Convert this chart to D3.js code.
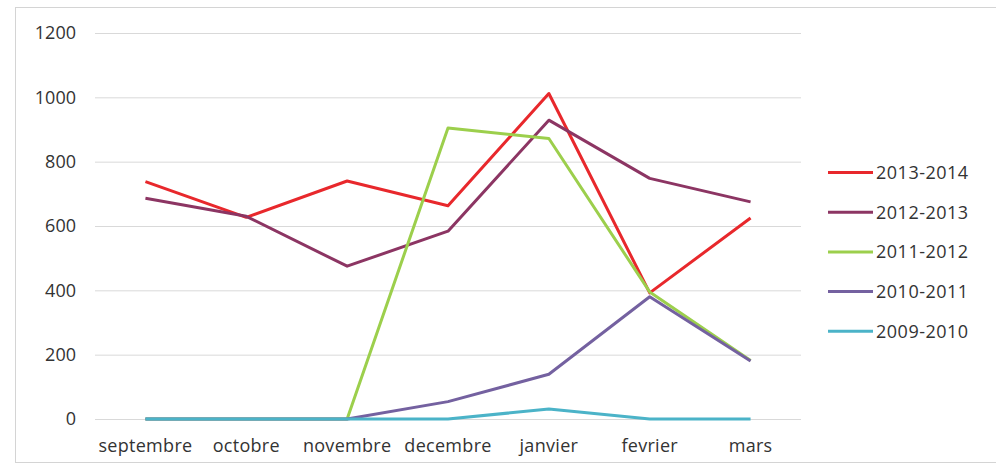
<!DOCTYPE html>
<html><head><meta charset="utf-8">
<script src="https://cdn.jsdelivr.net/npm/d3@7"></script>
<style>body{margin:0;background:#fff}svg{display:block}text{font-family:"Open Sans",sans-serif;fill:#333}</style>
</head><body><svg id="c" width="996" height="470"></svg>
<script>
const categories = ["septembre","octobre","novembre","decembre","janvier","fevrier","mars"];
const seriesNames = ["2013-2014","2012-2013","2011-2012","2010-2011","2009-2010"];
const seriesColors = ["#e8282c","#8c3563","#9ccf4c","#7461a0","#4bb3c8"];
const s20132014 = [738,627,740,663,1012,392,625];
const s20122013 = [686,630,475,584,929,748,675];
const s20112012 = [0,0,0,905,872,395,182];
const s20102011 = [0,0,0,54,139,380,180];
const s20092010 = [0,0,0,0,31,0,0];
const yTicks = [0,200,400,600,800,1000,1200];
const allSeries = [s20132014,s20122013,s20112012,s20102011,s20092010];

const svg = d3.select("#c");
svg.append("rect").attr("x",15.5).attr("y",7.5).attr("width",1000).attr("height",455)
  .attr("fill","none").attr("stroke","#d4d4d4");

const x = d3.scaleBand().domain(categories).range([95,801]);
const y = d3.scaleLinear().domain([0,1200]).range([419,33]);

const ga = svg.append("g").attr("transform","translate(95,0)")
  .call(d3.axisLeft(y).tickValues(yTicks).tickSize(-706).tickPadding(19).tickFormat(d3.format("d")));
ga.select(".domain").remove();
ga.selectAll("line").attr("stroke","#d9d9d9");
ga.selectAll("text").attr("font-size",18).style("fill","#333");

const gx = svg.append("g").attr("transform","translate(0,419)")
  .call(d3.axisBottom(x).tickSize(0).tickPadding(20));
gx.select(".domain").remove();
gx.selectAll("text").attr("font-size",18).style("fill","#333").attr("letter-spacing","0.3");

const line = d3.line().x((d,i)=>x(categories[i])+x.bandwidth()/2).y(d=>y(d));
allSeries.forEach((s,k)=>{
  svg.append("path").datum(s).attr("d",line).attr("fill","none")
    .attr("stroke",seriesColors[k]).attr("stroke-width",3).attr("stroke-linejoin","round");
});

const lg = svg.append("g");
seriesNames.forEach((n,k)=>{
  const yy = 172.5 + k*39.7;
  lg.append("line").attr("x1",828).attr("x2",873).attr("y1",yy).attr("y2",yy)
    .attr("stroke",seriesColors[k]).attr("stroke-width",3);
  lg.append("text").attr("x",876).attr("y",yy).attr("dy","0.35em").attr("font-size",18).attr("letter-spacing","0.5").text(n);
});
</script></body></html>
